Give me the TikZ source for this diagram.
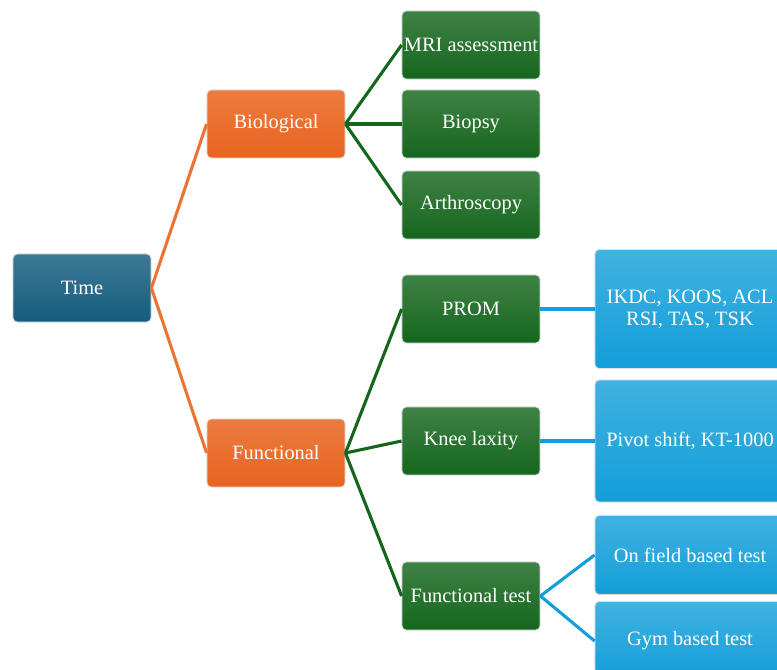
\documentclass[tikz,border=0pt]{standalone}
\usepackage{fontspec}
\setmainfont{Liberation Serif}
\usetikzlibrary{positioning}

\definecolor{timeblue}{HTML}{145C7E}
\definecolor{bioorange}{HTML}{E8641F}
\definecolor{leafgreen}{HTML}{15661D}
\definecolor{skyblue}{HTML}{129ED9}

\begin{document}
\begin{tikzpicture}
      [ x=0.025cm, y=-0.025cm,
        box/.style={rounded corners=3pt, draw=white!75!gray, line width=0.6pt,
          text=white, align=center, inner sep=1pt,
          font=\fontsize{14.5}{15.5}\selectfont,
          minimum width=3.45cm, minimum height=1.7cm},
        timebox/.style={box, top color=timeblue!82!white, bottom color=timeblue},
        catbox/.style={box, top color=bioorange!85!white, bottom color=bioorange},
        subbox/.style={box, top color=leafgreen!82!white, bottom color=leafgreen},
        toolbox/.style={box, top color=skyblue!80!white, bottom color=skyblue,
          minimum width=4.75cm},
        orangeline/.style={draw=bioorange!90!white, line width=2.2pt},
        greenline/.style={draw=leafgreen, line width=2.2pt},
        blueline/.style={draw=skyblue, line width=2.2pt}
      ]
      \clip (0,0) rectangle (777,670);

      \node[timebox]  (time)   at (82,288)  {Time};
      \node[catbox]   (bio)    at (276,124) {Biological};
      \node[catbox]   (func)   at (276,453) {Functional};

      \node[subbox]   (mri)    at (471,45)  {MRI assessment};
      \node[subbox]   (biopsy) at (471,124) {Biopsy};
      \node[subbox]   (arthro) at (471,205) {Arthroscopy};
      \node[subbox]   (prom)   at (471,309) {PROM};
      \node[subbox]   (knee)   at (471,441) {Knee laxity};
      \node[subbox]   (ftest)  at (471,596) {Functional test};

      \node[toolbox, minimum height=2.98cm] (scores) at (690,309) {IKDC, KOOS, ACL\\RSI, TAS, TSK};
      \node[toolbox, minimum height=3.05cm] (pivot)  at (690,441) {Pivot shift, KT-1000};
      \node[toolbox, minimum height=1.98cm] (field)  at (690,555) {On field based test};
      \node[toolbox, minimum height=1.98cm] (gym)    at (690,641) {Gym based test};

      \path[orangeline] (time.east) edge (bio.west)
                        (time.east) edge (func.west);
      \path[greenline]  (bio.east)  edge (mri.west)
                        (bio.east)  edge (biopsy.west)
                        (bio.east)  edge (arthro.west)
                        (func.east) edge (prom.west)
                        (func.east) edge (knee.west)
                        (func.east) edge (ftest.west);
      \path[blueline]   (prom.east)  edge (scores.west)
                        (knee.east)  edge (pivot.west)
                        (ftest.east) edge (field.west)
                        (ftest.east) edge (gym.west);
\end{tikzpicture}
\end{document}
